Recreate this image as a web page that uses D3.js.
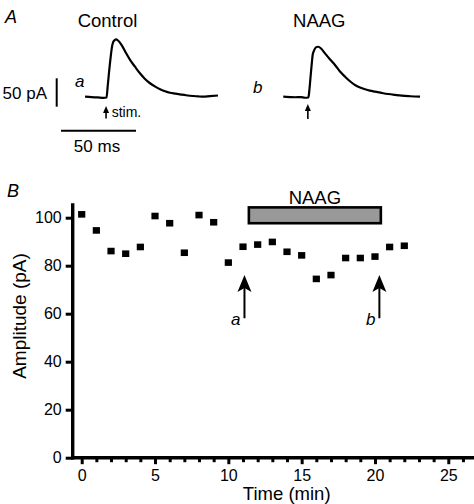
<!DOCTYPE html>
<html>
<head>
<meta charset="utf-8">
<script src="https://cdn.jsdelivr.net/npm/d3@7"></script>
<style>
  html, body { margin: 0; padding: 0; background: #fff; }
  svg { display: block; }
  text { font-family: "Liberation Sans", Arial, Helvetica, sans-serif; fill: #000; }
</style>
</head>
<body>
<svg id="chart" width="474" height="504"></svg>
<script>
// ---------- Data ----------
// Panel A: example EPSC traces (time in ms relative to stimulus, current in pA)
const ctrlTime = [-14.3, -10, -6, -2, 0, 0.8, 1.6, 2.3, 3.0, 3.6, 4.3, 5.2, 6.3, 7.7, 10.1, 12.8, 15.7, 19, 22.3, 25.5, 29, 32.5, 35.7, 39, 42.3, 46, 49, 53, 57.7, 61, 64.3, 69, 74.3];
const ctrlCurrent = [1.4, 0.5, 0.2, -0.5, 0, 20, 42, 60, 76, 88, 96, 100, 102, 100, 92, 79, 66, 54, 42.5, 33, 25, 19, 14.4, 11, 8.4, 6.8, 5.6, 4, 2.6, 2, 1.4, 2.5, 3.5];
const naagTime = [-16.7, -12, -8.9, -5, -2.2, 0, 0.5, 1.2, 1.8, 2.4, 2.9, 3.6, 4.5, 5.5, 6.7, 8.5, 11.1, 14.4, 17.8, 21, 24.5, 27.8, 31.1, 34.5, 37.8, 41, 44.5, 49, 53.3, 58, 62.3, 68, 74.5];
const naagCurrent = [1.4, 0.8, 0.4, 0.6, -0.4, 0, 7.4, 27, 45, 62, 74.6, 81, 86, 88.5, 89, 86, 77.5, 67, 57, 46, 36.5, 28.5, 22, 17.5, 14.4, 12, 10.2, 8, 6.1, 4.5, 3.2, 2.2, 1.4];
const scaleBarMs = 50;
const scaleBarPA = 50;

// Panel B: amplitude vs time
const timeMin = [0, 1, 2, 3, 4, 5, 6, 7, 8, 9, 10, 11, 12, 13, 14, 15, 16, 17, 18, 19, 20, 21, 22];
const amplitude = [101.4, 94.7, 86.1, 85.0, 87.8, 100.7, 97.7, 85.4, 101.1, 98.1, 81.3, 87.9, 88.8, 89.9, 85.8, 84.3, 74.5, 76.1, 83.2, 83.2, 83.8, 87.8, 88.3];
const naagPeriod = [11.4, 20.4];
const arrowTimes = [11.1, 20.3];
const arrowLabels = ["a", "b"];
const xMajorTicks = [0, 5, 10, 15, 20, 25];
const xMinorTicks = d3.range(0, 27).filter(d => d % 5 !== 0);
const yTicks = [0, 20, 40, 60, 80, 100];

// ---------- Drawing ----------
const svg = d3.select("#chart");

// ===== Panel A =====
svg.append("text").attr("x", 5).attr("y", 23).attr("font-size", 18).attr("font-style", "italic").text("A");
svg.append("text").attr("x", 107.5).attr("y", 27).attr("font-size", 18.5).attr("text-anchor", "middle").text("Control");
svg.append("text").attr("x", 319.3).attr("y", 27).attr("font-size", 18.5).attr("text-anchor", "middle").text("NAAG");

const xCtrl = d3.scaleLinear().domain([0, 50]).range([106.5, 181.5]);
const xNaag = d3.scaleLinear().domain([0, 50]).range([308.3, 383.3]);
const yTrace = d3.scaleLinear().domain([0, 50]).range([97.5, 69]);

function drawTrace(ts, is, xs) {
  const line = d3.line().x(d => xs(d[0])).y(d => yTrace(d[1])).curve(d3.curveMonotoneX);
  svg.append("path").datum(d3.zip(ts, is)).attr("d", line)
    .attr("fill", "none").attr("stroke", "#000").attr("stroke-width", 2.2)
    .attr("stroke-linejoin", "round");
}
drawTrace(ctrlTime, ctrlCurrent, xCtrl);
drawTrace(naagTime, naagCurrent, xNaag);

// small stim arrows
function smallArrow(x, yTip, yBase) {
  svg.append("line").attr("x1", x).attr("x2", x).attr("y1", yTip + 5).attr("y2", yBase)
    .attr("stroke", "#000").attr("stroke-width", 1.6);
  svg.append("path").attr("d", `M${x},${yTip} L${x - 3},${yTip + 7} L${x + 3},${yTip + 7} Z`).attr("fill", "#000");
}
smallArrow(xCtrl(-0.3), 106, 118.5);
smallArrow(xNaag(-0.3), 104, 119);

svg.append("text").attr("x", 111.7).attr("y", 116.7).attr("font-size", 14).text("stim.");
svg.append("text").attr("x", 75).attr("y", 87).attr("font-size", 17).attr("font-style", "italic").text("a");
svg.append("text").attr("x", 253).attr("y", 93).attr("font-size", 17).attr("font-style", "italic").text("b");

// scale bars
const xBar = d3.scaleLinear().domain([0, 50]).range([61, 136]);
const yBar = d3.scaleLinear().domain([0, 50]).range([106.7, 78.3]);
svg.append("line").attr("x1", xBar(0)).attr("x2", xBar(scaleBarMs)).attr("y1", 130.7).attr("y2", 130.7)
  .attr("stroke", "#000").attr("stroke-width", 2);
svg.append("line").attr("x1", 56.7).attr("x2", 56.7).attr("y1", yBar(0)).attr("y2", yBar(scaleBarPA))
  .attr("stroke", "#000").attr("stroke-width", 2);
svg.append("text").attr("x", 47).attr("y", 99.3).attr("font-size", 17).attr("text-anchor", "end").text(scaleBarPA + " pA");
svg.append("text").attr("x", 97).attr("y", 151.7).attr("font-size", 17).attr("text-anchor", "middle").text(scaleBarMs + " ms");

// ===== Panel B =====
svg.append("text").attr("x", 7).attr("y", 197).attr("font-size", 18).attr("font-style", "italic").text("B");

const x = d3.scaleLinear().domain([0, 25]).range([81.7, 448.3]);
const y = d3.scaleLinear().domain([0, 100]).range([457.7, 217.7]);
const axisX0 = 72.7;

// y axis
const yAxisG = svg.append("g").attr("transform", `translate(${axisX0},0)`)
  .call(d3.axisLeft(y).tickValues(yTicks).tickSize(7).tickPadding(4));
yAxisG.select(".domain").remove();
yAxisG.selectAll(".tick line").attr("stroke", "#000").attr("stroke-width", 3);
yAxisG.selectAll(".tick text").attr("font-size", 16).attr("font-family", "Liberation Sans, Arial, sans-serif").attr("fill", "#000");
svg.append("line").attr("x1", axisX0).attr("x2", axisX0).attr("y1", y(106)).attr("y2", y(0) + 1.7)
  .attr("stroke", "#000").attr("stroke-width", 3.4);

// x axis
const xAxisY = y(0);
const xMinorG = svg.append("g").attr("transform", `translate(0,${xAxisY})`)
  .call(d3.axisBottom(x).tickValues(xMinorTicks).tickSize(4.5).tickFormat(""));
xMinorG.select(".domain").remove();
xMinorG.selectAll(".tick line").attr("stroke", "#000").attr("stroke-width", 3);
const xAxisG = svg.append("g").attr("transform", `translate(0,${xAxisY})`)
  .call(d3.axisBottom(x).tickValues(xMajorTicks).tickSize(6.5).tickPadding(5));
xAxisG.select(".domain").remove();
xAxisG.selectAll(".tick line").attr("stroke", "#000").attr("stroke-width", 3);
xAxisG.selectAll(".tick text").attr("font-size", 16).attr("font-family", "Liberation Sans, Arial, sans-serif").attr("fill", "#000");
svg.append("line").attr("x1", axisX0 - 1.7).attr("x2", 474).attr("y1", xAxisY).attr("y2", xAxisY)
  .attr("stroke", "#000").attr("stroke-width", 3.4);

// axis titles
svg.append("text").attr("transform", `translate(26,316) rotate(-90)`).attr("font-size", 19)
  .attr("text-anchor", "middle").text("Amplitude (pA)");
svg.append("text").attr("x", 286.7).attr("y", 500).attr("font-size", 18.5)
  .attr("text-anchor", "middle").text("Time (min)");

// NAAG application bar
svg.append("rect").attr("x", x(naagPeriod[0])).attr("y", y(104.3))
  .attr("width", x(naagPeriod[1]) - x(naagPeriod[0])).attr("height", y(97.7) - y(104.3))
  .attr("fill", "#999999").attr("stroke", "#000").attr("stroke-width", 2.6);
svg.append("text").attr("x", (x(naagPeriod[0]) + x(naagPeriod[1])) / 2).attr("y", 204.3)
  .attr("font-size", 18.5).attr("text-anchor", "middle").text("NAAG");

// data squares
svg.append("g").selectAll("rect").data(d3.zip(timeMin, amplitude)).join("rect")
  .attr("x", d => x(d[0]) - 3.6).attr("y", d => y(d[1]) - 3.3)
  .attr("width", 7.2).attr("height", 6.6).attr("fill", "#000");

// big arrows a / b
arrowTimes.forEach((t, i) => {
  const ax = x(t);
  const tip = y(76.1), base = y(58.1);
  svg.append("line").attr("x1", ax).attr("x2", ax).attr("y1", tip + 10).attr("y2", base)
    .attr("stroke", "#000").attr("stroke-width", 2);
  svg.append("path").attr("d", `M${ax},${tip} L${ax - 7},${tip + 17} L${ax},${tip + 13} L${ax + 7},${tip + 17} Z`)
    .attr("fill", "#000");
  svg.append("text").attr("x", ax - 13.5).attr("y", 325).attr("font-size", 17).attr("font-style", "italic")
    .text(arrowLabels[i]);
});
</script>
</body>
</html>
